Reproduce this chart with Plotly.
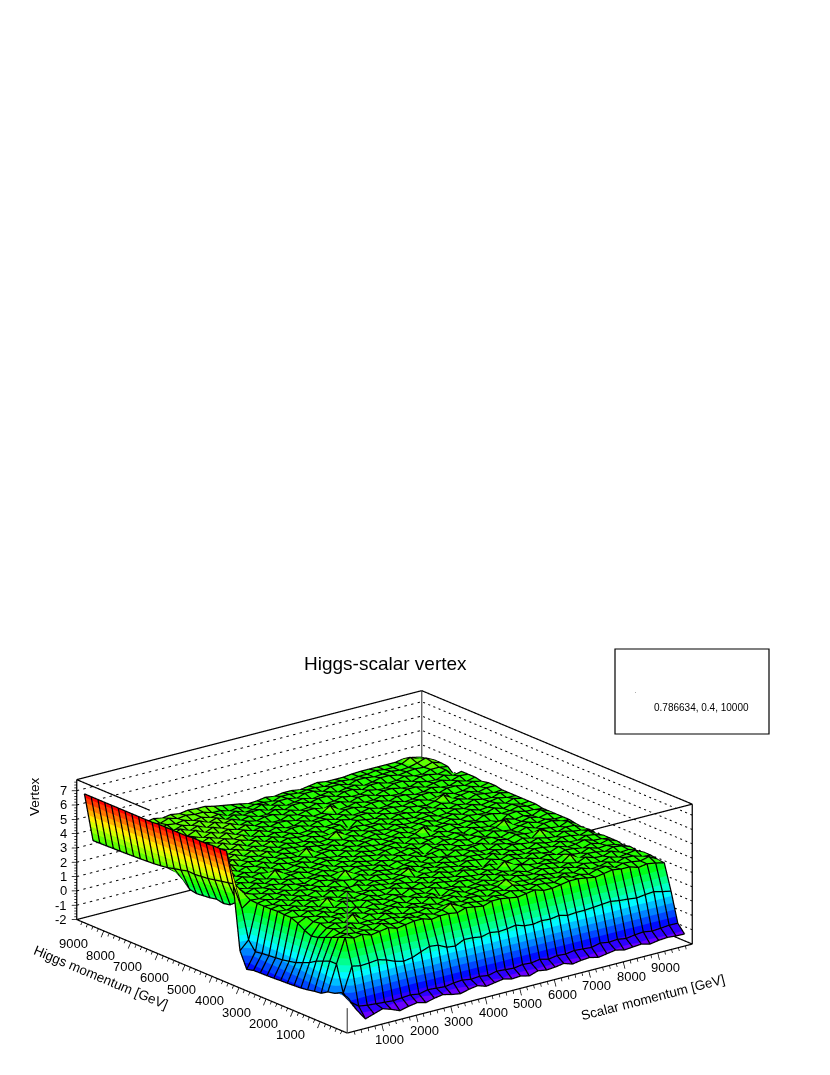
import colorsys
import plotly.graph_objects as go

# bin centres of the 40 x 40 histogram
scalar_p = [125 + 250 * i for i in range(40)]
higgs_p = [125 + 250 * j for j in range(40)]

# one row per Higgs bin
vertex = [
    [.27,-.73,-1.5,-1.3,-1.1,-1.3,-1.55,-1.4,-1.3,-1.45,-1.3,-1.2,-1.35,-1.45,-1.3,-1.2,-1.4,-1.3,-1.2,-1.35,-1.3,-1.45,-1.25,-1.35,-1.3,-1.2,-1.4,-1.3,-1.25,-1.4,-1.3,-1.2,-1.35,-1.3,-1.25,-1.4,-1.3,-1.25,-1.3,-1.32],
    [.45,-.35,-.8,-.9,-.95,-1.0,-1.05,-1.0,-.95,-1.05,-.9,-.95,-1.0,-.9,-.85,-.95,-.9,-1.0,-.85,-.9,-.95,-.85,-.9,-.8,-.95,-.85,-.9,-.8,-.85,-.9,-.75,-.85,-.8,-.9,-.8,-.75,-.85,-.8,-.75,-.76],
    [.2,.07,1.79,1.66,1.7,1.77,1.6,1.35,1.2,1.3,1.55,1.77,1.7,1.4,1.33,1.63,1.6,1.5,1.65,1.55,1.6,1.7,1.5,1.45,1.55,1.5,1.6,1.45,1.5,1.5,1.55,1.6,1.65,1.55,1.5,1.42,1.5,1.55,1.4,1.28],
    [.1,1.9,3.6,3.4,3.5,3.3,3.4,3.5,3.3,3.4,3.5,3.5,3.3,3.4,3.4,3.3,3.5,3.4,3.3,3.5,3.5,3.4,3.3,3.4,3.5,3.3,3.3,3.4,3.5,3.5,3.4,3.3,3.4,3.5,3.4,3.4,3.2,3.3,3.2,3.06],
    [-.19,1.9,3.4,3.5,3.4,3.45,3.3,3.6,3.4,3.35,3.55,3.4,3.5,3.3,3.45,3.75,3.4,3.5,3.4,3.3,3.5,3.4,3.55,3.4,3.3,3.5,3.45,3.35,3.6,3.4,3.45,3.3,3.5,3.55,3.3,3.45,3.4,3.3,3.45,3.1],
    [-.25,1.7,3.2,3.35,3.6,3.3,3.45,3.35,3.5,3.5,3.3,3.45,3.4,3.55,3.3,3.4,3.5,3.35,3.5,3.45,3.25,3.5,3.35,3.6,3.4,3.35,3.55,3.45,3.3,3.5,3.35,3.55,3.3,3.35,3.5,3.3,3.5,3.45,3.25,3.2],
    [-.35,1.5,3.0,3.45,3.3,3.55,3.35,3.4,3.3,3.6,3.4,3.25,3.55,3.4,3.45,3.3,3.45,3.55,3.3,3.4,3.5,3.35,3.45,3.8,3.45,3.4,3.3,3.5,3.4,3.3,3.55,3.35,3.5,3.4,3.3,3.5,3.3,3.4,3.5,3.2],
    [-.42,1.2,2.8,3.3,3.5,3.35,3.8,3.3,3.5,3.35,3.45,3.55,3.3,3.45,3.3,3.6,3.35,3.4,3.55,3.3,3.45,3.5,3.35,3.45,3.3,3.55,3.4,3.35,3.55,3.45,3.3,3.5,3.35,3.6,3.4,3.35,3.55,3.3,3.35,3.1],
    [-.45,1.0,2.7,3.45,3.3,3.5,3.3,3.55,3.35,3.5,3.3,3.4,3.5,3.3,3.55,3.35,3.5,3.1,3.45,3.5,3.3,3.4,3.5,3.3,3.55,3.35,3.5,3.3,3.4,3.55,3.45,3.3,3.75,3.3,3.5,3.45,3.3,3.5,3.4,3.2],
    [-.48,.8,2.9,3.35,3.55,3.35,3.45,3.3,3.6,3.4,3.5,3.3,3.45,3.55,3.35,3.45,3.3,3.55,3.35,3.3,3.55,3.45,3.3,3.55,3.35,3.45,3.3,3.6,3.45,3.35,3.5,3.3,3.55,3.4,3.3,3.55,3.35,3.4,3.3,3.1],
    [-.5,.7,3.2,3.5,3.35,3.55,3.3,3.5,3.35,3.1,3.55,3.45,3.3,3.5,3.3,3.6,3.4,3.35,3.55,3.45,3.3,3.5,3.4,3.3,3.5,3.35,3.8,3.4,3.3,3.55,3.35,3.5,3.3,3.5,3.45,3.3,3.5,3.3,3.45,3.2],
    [-.53,.6,3.4,3.3,3.55,3.4,3.5,3.3,3.6,3.45,3.35,3.55,3.35,3.3,3.6,3.4,3.3,3.5,3.3,3.55,3.4,3.3,3.6,3.45,3.35,3.55,3.3,3.45,3.5,3.3,3.55,3.4,3.3,3.55,3.35,3.4,3.55,3.35,3.3,3.2],
    [-.55,.55,3.4,3.55,3.35,3.5,3.3,3.8,3.35,3.5,3.3,3.45,3.55,3.4,3.35,3.55,3.45,3.3,3.5,3.35,3.6,3.4,3.3,3.5,3.35,3.1,3.55,3.35,3.55,3.4,3.3,3.5,3.45,3.3,3.55,3.35,3.3,3.5,3.4,3.2],
    [-.56,.5,3.44,3.35,3.5,3.3,3.55,3.4,3.5,3.3,3.6,3.35,3.3,3.55,3.45,3.3,3.5,3.55,3.3,3.45,3.35,3.55,3.45,3.3,3.55,3.45,3.35,3.6,3.3,3.5,3.35,3.3,3.55,3.4,3.3,3.5,3.45,3.3,3.5,3.1],
    [-.58,.45,3.4,3.5,3.3,3.55,3.35,3.45,3.3,3.6,3.4,3.5,3.55,3.3,3.5,3.4,3.3,3.45,3.75,3.3,3.5,3.35,3.55,3.4,3.3,3.5,3.45,3.3,3.5,3.35,3.55,3.45,3.35,3.55,3.4,3.3,3.55,3.4,3.3,3.2],
    [-.7,.37,3.4,3.35,3.55,3.3,3.5,3.35,3.55,3.3,3.5,3.35,3.1,3.5,3.35,3.55,3.45,3.3,3.5,3.55,3.35,3.45,3.3,3.55,3.45,3.35,3.55,3.35,3.3,3.55,3.4,3.3,3.5,3.3,3.8,3.45,3.3,3.5,3.45,3.14],
    [.4,1.0,3.4,3.5,3.35,3.55,3.3,3.55,3.4,3.5,3.3,3.55,3.45,3.35,3.55,3.3,3.5,3.4,3.3,3.45,3.55,3.3,3.5,3.35,3.3,3.55,3.4,3.5,3.55,3.3,3.5,3.35,3.55,3.45,3.35,3.5,3.4,3.3,3.55,3.2],
    [4.8,3.0,3.43,3.35,3.55,3.4,3.5,3.3,3.5,3.35,3.55,3.4,3.3,3.8,3.4,3.5,3.35,3.55,3.3,3.5,3.4,3.55,3.35,3.45,3.55,3.3,3.5,3.35,3.3,3.55,3.45,3.3,3.5,3.35,3.55,3.3,3.5,3.55,3.35,3.3],
    [6.97,4.5,3.7,3.5,3.35,3.55,3.3,3.55,3.4,3.3,3.5,3.55,3.35,3.45,3.3,3.55,3.45,3.3,3.5,3.35,3.55,3.4,3.5,3.1,3.45,3.55,3.35,3.55,3.4,3.5,3.3,3.55,3.4,3.3,3.45,3.55,3.35,3.45,3.3,3.3],
    [6.95,4.4,2.9,3.35,3.55,3.4,3.5,3.35,3.55,3.45,3.3,3.4,3.55,3.35,3.5,3.35,3.55,3.4,3.3,3.55,3.35,3.45,3.55,3.35,3.55,3.3,3.5,3.4,3.55,3.35,3.5,3.35,3.45,3.8,3.3,3.4,3.55,3.35,3.5,3.3],
    [6.95,4.3,2.5,3.5,3.3,3.55,3.35,3.55,3.3,3.5,3.55,3.35,3.45,3.55,3.3,3.5,3.35,3.55,3.45,3.3,3.5,3.55,3.35,3.5,3.3,3.45,3.55,3.35,3.5,3.3,3.55,3.4,3.3,3.5,3.55,3.35,3.45,3.3,3.55,3.3],
    [6.9,4.2,2.4,3.35,3.55,3.35,3.5,3.3,3.8,3.4,3.35,3.55,3.3,3.45,3.55,3.35,3.5,3.3,3.55,3.4,3.35,3.5,3.55,3.3,3.55,3.4,3.35,3.55,3.35,3.5,3.35,3.55,3.45,3.35,3.1,3.5,3.55,3.4,3.35,3.3],
    [6.9,4.1,2.5,3.55,3.35,3.6,3.4,3.55,3.4,3.5,3.3,3.45,3.55,3.35,3.5,3.4,3.3,3.55,3.35,3.55,3.45,3.35,3.45,3.55,3.35,3.5,3.8,3.3,3.5,3.55,3.35,3.45,3.3,3.55,3.5,3.35,3.4,3.55,3.4,3.4],
    [6.9,4.05,2.4,3.4,3.65,3.4,3.55,3.35,3.6,3.35,3.55,3.4,3.35,3.55,3.35,3.5,3.55,3.35,3.5,3.35,3.5,3.55,3.35,3.4,3.55,3.35,3.4,3.55,3.35,3.4,3.55,3.35,3.5,3.4,3.35,3.55,3.35,3.5,3.35,3.4],
    [6.85,4.0,2.35,3.6,3.45,3.7,3.4,3.6,3.45,3.6,3.35,3.55,3.45,3.35,3.8,3.35,3.4,3.55,3.35,3.55,3.35,3.45,3.55,3.35,3.5,3.55,3.35,3.5,3.55,3.35,3.45,3.55,3.35,3.55,3.35,3.4,3.55,3.35,3.55,3.4],
    [6.85,4.03,2.3,3.5,3.7,3.45,3.7,3.4,3.6,3.45,3.6,3.4,3.55,3.4,3.35,3.55,3.45,3.35,3.55,3.4,3.55,3.35,3.55,3.45,3.35,3.55,3.4,3.35,3.5,3.55,3.35,3.4,3.55,3.4,3.55,3.35,3.45,3.55,3.4,3.4],
    [6.85,3.9,2.4,3.7,3.45,3.7,3.45,3.7,3.45,3.6,3.45,3.65,3.4,3.55,3.45,3.35,3.55,3.35,3.4,3.8,3.4,3.55,3.35,3.5,3.55,3.35,3.55,3.45,3.35,3.55,3.4,3.55,3.35,3.5,3.35,3.55,3.4,3.35,3.55,3.4],
    [6.85,3.8,2.9,3.45,3.7,3.45,3.7,3.45,3.7,3.4,3.65,3.45,3.6,3.4,3.55,3.4,3.35,3.55,3.4,3.35,3.55,3.35,3.5,3.4,3.35,3.55,3.35,3.55,3.5,3.35,3.55,3.35,3.55,3.4,3.55,3.35,3.55,3.45,3.35,3.4],
    [6.85,3.67,3.2,3.7,3.45,3.75,3.45,3.7,3.5,3.7,3.45,3.6,3.45,3.65,3.4,3.55,3.45,3.4,3.55,3.35,3.5,3.55,3.1,3.55,3.45,3.35,3.55,3.4,3.35,3.55,3.45,3.35,3.5,3.8,3.35,3.45,3.55,3.35,3.5,3.5],
    [6.8,3.6,3.4,3.5,3.75,3.45,3.7,3.45,3.7,3.45,3.7,3.4,3.65,3.4,3.6,3.4,3.55,3.35,3.4,3.55,3.35,3.4,3.55,3.4,3.55,3.55,3.35,3.55,3.5,3.4,3.55,3.55,3.35,3.4,3.55,3.35,3.4,3.55,3.35,3.5],
    [6.8,3.55,3.7,3.75,3.5,3.75,3.5,3.7,3.45,3.75,3.45,3.65,3.45,3.6,3.4,3.55,3.4,3.55,3.55,3.35,3.55,3.55,3.35,3.55,3.35,3.4,3.55,3.35,3.4,3.55,3.35,3.4,3.55,3.55,3.35,3.55,3.55,3.4,3.55,3.4],
    [6.8,3.52,3.5,3.5,3.75,3.5,3.75,3.45,3.75,3.5,3.7,3.5,3.65,3.35,3.65,3.4,3.55,3.35,3.35,3.55,3.35,3.45,3.55,3.35,3.55,3.55,3.4,3.55,3.55,3.35,3.55,3.5,3.35,3.4,3.55,3.4,3.35,3.55,3.35,3.5],
    [6.8,3.49,3.7,3.75,3.5,3.8,3.55,3.75,3.5,3.75,3.5,3.75,3.45,3.65,3.4,3.55,3.4,3.55,3.5,3.35,3.55,3.35,3.4,3.8,3.35,3.4,3.55,3.4,3.4,3.55,3.4,3.35,3.55,3.55,3.35,3.5,3.55,3.35,3.55,3.5],
    [6.8,3.47,3.6,3.6,3.85,3.5,3.75,3.5,3.75,3.5,3.75,3.5,3.65,3.45,3.65,3.4,3.55,3.35,3.35,3.55,3.4,3.55,3.55,3.35,3.55,3.55,3.35,3.55,3.55,3.35,3.55,3.55,3.4,3.35,3.55,3.4,3.35,3.55,3.35,3.5],
    [6.8,3.45,3.8,3.85,3.6,3.85,3.6,3.8,3.6,3.85,3.5,3.75,3.5,3.7,3.4,3.55,3.4,3.55,3.55,3.35,3.55,3.35,3.4,3.55,3.35,3.4,3.55,3.4,3.4,3.55,3.4,3.35,3.55,3.55,3.35,3.55,3.55,3.4,3.55,3.0],
    [6.8,3.43,3.7,3.6,3.8,3.6,3.8,3.6,3.9,3.6,3.8,3.5,3.75,3.5,3.65,3.4,3.55,3.35,3.35,3.55,3.35,3.55,3.55,3.4,3.55,3.55,3.35,3.55,3.55,3.35,3.55,3.55,3.35,3.4,3.55,3.4,3.35,3.55,3.55,3.44],
    [6.8,3.42,3.8,3.9,3.7,3.9,3.7,3.8,3.6,3.8,3.6,3.8,3.5,3.7,3.4,3.6,3.4,3.5,3.5,3.25,3.5,3.3,3.4,3.5,3.3,3.4,3.5,3.3,3.45,3.5,3.3,3.4,3.55,3.55,3.4,3.5,3.55,3.5,3.7,3.5],
    [6.8,3.4,3.7,3.7,3.8,3.6,3.8,3.6,3.8,3.7,3.8,3.6,3.7,3.5,3.6,3.3,3.5,3.25,3.3,3.5,3.25,3.45,3.45,3.3,3.5,3.5,3.3,3.5,3.5,3.3,3.5,3.5,3.4,3.45,3.5,3.4,3.45,3.6,3.8,3.5],
    [6.8,3.39,3.8,3.9,3.7,3.9,3.7,3.8,3.7,3.9,3.7,3.8,3.7,3.7,3.5,3.5,3.3,3.4,3.2,3.3,3.3,3.2,3.4,3.4,3.3,3.4,3.4,3.3,3.4,3.4,3.3,3.4,3.4,3.5,3.4,3.4,3.5,3.8,3.5,3.4],
    [6.8,3.38,3.6,3.6,3.7,3.7,3.8,3.7,3.83,3.7,3.8,3.7,3.8,3.75,3.75,3.6,3.5,3.4,3.3,3.16,3.2,3.3,3.2,3.3,3.3,3.2,3.3,3.4,3.3,3.3,3.3,3.37,3.4,3.4,3.4,3.4,3.4,3.5,3.44,3.3],
]

xticks_major = [1000, 2000, 3000, 4000, 5000, 6000, 7000, 8000, 9000]
yticks_major = [1000, 2000, 3000, 4000, 5000, 6000, 7000, 8000, 9000]
zticks_major = [-2, -1, 0, 1, 2, 3, 4, 5, 6, 7]

XMAX = 10000
ZMIN, ZMAX = -2, 7.77

# ROOT rainbow palette cut in 20 contour bands
colorscale = []
for k in range(20):
    r, g, b = colorsys.hls_to_rgb((265 - 265 * k / 19) / 360, 0.5, 1)
    col = f"rgb({int(r * 255)},{int(g * 255)},{int(b * 255)})"
    colorscale += [[k / 20, col], [(k + 1) / 20, col]]


def segments(pairs):
    """Flatten a list of 3D segments into x, y, z with None gaps."""
    xs, ys, zs = [], [], []
    for a, b in pairs:
        xs += [a[0], b[0], None]
        ys += [a[1], b[1], None]
        zs += [a[2], b[2], None]
    return xs, ys, zs


def lines(pairs, color="black", width=2.5):
    xs, ys, zs = segments(pairs)
    return go.Scatter3d(x=xs, y=ys, z=zs, mode="lines", hoverinfo="skip", showlegend=False,
                        line=dict(color=color, width=width))


def label(x, y, text, size=13.5, angle=0):
    return dict(xref="paper", yref="paper", x=x / 830, y=1 - y / 1075, text=text, showarrow=False,
                xanchor="center", yanchor="middle", textangle=angle,
                font=dict(family="Liberation Sans", size=size, color="black"))


fig = go.Figure()

fig.add_trace(go.Surface(
    x=scalar_p, y=higgs_p, z=vertex,
    colorscale=colorscale, cmin=-1.6, cmax=7.0, showscale=False,
    lighting=dict(ambient=1, diffuse=0, specular=0, roughness=1, fresnel=0),
))

# black mesh over the surface, nudged towards the camera so it wins the depth test
NX, NY, NZ = -28.6, -36.4, 0.047
mesh_x, mesh_y, mesh_z = [], [], []
for j, yv in enumerate(higgs_p):
    for i, xv in enumerate(scalar_p):
        mesh_x.append(xv + NX)
        mesh_y.append(yv + NY)
        mesh_z.append(vertex[j][i] + NZ)
    mesh_x.append(None)
    mesh_y.append(None)
    mesh_z.append(None)
for i, xv in enumerate(scalar_p):
    for j, yv in enumerate(higgs_p):
        mesh_x.append(xv + NX)
        mesh_y.append(yv + NY)
        mesh_z.append(vertex[j][i] + NZ)
    mesh_x.append(None)
    mesh_y.append(None)
    mesh_z.append(None)
fig.add_trace(go.Scatter3d(x=mesh_x, y=mesh_y, z=mesh_z, mode="lines", hoverinfo="skip",
                           showlegend=False, line=dict(color="black", width=2.5)))

# box edges; the two front top edges stop where the surface hides them in the reference
box = [
    ((0, XMAX, ZMAX), (XMAX, XMAX, ZMAX)), ((XMAX, XMAX, ZMAX), (XMAX, 0, ZMAX)),
    ((0, XMAX, ZMIN), (XMAX, XMAX, ZMIN)), ((XMAX, XMAX, ZMIN), (XMAX, 0, ZMIN)),
    ((0, XMAX, ZMIN), (0, XMAX, ZMAX)), ((XMAX, 0, ZMIN), (XMAX, 0, ZMAX)),
    ((0, 0, ZMIN), (XMAX, 0, ZMIN)), ((0, 0, ZMIN), (0, XMAX, ZMIN)),
    ((0, XMAX, ZMAX), (0, 7300, ZMAX)), ((XMAX, 0, ZMAX), (7050, 0, ZMAX)),
]
fig.add_trace(lines(box))
fig.add_trace(lines([((XMAX, XMAX, ZMIN), (XMAX, XMAX, ZMAX)),
                     ((0, 0, ZMIN), (0, 0, -0.26)), ((0, 0, 4.77), (0, 0, ZMAX))],
                    color="#555555"))

# dotted grid on the two back walls, drawn as short strokes
grid = []
for z in zticks_major[1:]:
    for v in range(0, XMAX, 190):
        grid.append(((v, XMAX, z), (v + 70, XMAX, z)))
        grid.append(((XMAX, v, z), (XMAX, v + 70, z)))
fig.add_trace(lines(grid, width=2))

# tick marks
ticks = []
for v in range(200, XMAX, 200):
    s = 1 if v % 1000 == 0 else 0.5
    ticks.append(((v, 0, ZMIN), (v, -63 * s, ZMIN - 0.43 * s)))
    ticks.append(((0, v, ZMIN), (-78 * s, v, ZMIN - 0.40 * s)))
for k in range(0, 49):
    z = ZMIN + 0.2 * k
    s = 1 if k % 5 == 0 else 0.5
    ticks.append(((0, XMAX, z), (-90 * s, XMAX + 70 * s, z)))
fig.add_trace(lines(ticks, width=1.5))

annotations = []
tick_font = dict(family="Liberation Sans", size=13, color="black")
for v in xticks_major:
    annotations.append(dict(x=v, y=0, z=ZMIN, text=str(v), showarrow=False, font=tick_font,
                            xshift=8, yshift=-15))
for v in yticks_major:
    annotations.append(dict(x=0, y=v, z=ZMIN, text=str(v), showarrow=False, font=tick_font,
                            xshift=-30, yshift=-13))
for v in zticks_major:
    annotations.append(dict(x=0, y=XMAX, z=v, text=str(v), showarrow=False, font=tick_font,
                            xanchor="right", xshift=-8))

# orthographic camera solved from the box corners, zoom goes through the aspect ratio
EYE = (-0.5826 * 1.961, -0.743 * 1.961, 0.3289 * 1.961)
CENTER = (0.0447, -0.0350, 0.6414)

fig.update_layout(
    width=830, height=1075,
    margin=dict(l=0, r=0, t=0, b=0),
    paper_bgcolor="white",
    showlegend=False,
    scene=dict(
        domain=dict(x=[0, 1], y=[0, 1]),
        aspectmode="manual",
        aspectratio=dict(x=0.8483, y=0.8483, z=0.3047),
        xaxis=dict(range=[-200, 10200], visible=False),
        yaxis=dict(range=[-200, 10200], visible=False),
        zaxis=dict(range=[-2.6, 8.2], visible=False),
        camera=dict(eye=dict(x=CENTER[0] + EYE[0], y=CENTER[1] + EYE[1], z=CENTER[2] + EYE[2]),
                    center=dict(x=CENTER[0], y=CENTER[1], z=CENTER[2]), up=dict(x=0, y=0, z=1),
                    projection=dict(type="orthographic")),
        annotations=annotations,
    ),
    shapes=[
        dict(type="rect", xref="paper", yref="paper", x0=615 / 830, x1=769 / 830,
             y0=1 - 734 / 1075, y1=1 - 649 / 1075, line=dict(color="black", width=1.2)),
        dict(type="rect", xref="paper", yref="paper", x0=635 / 830, x1=635.7 / 830,
             y0=1 - 692.7 / 1075, y1=1 - 692 / 1075, line=dict(width=0), fillcolor="#666666"),
    ],
    annotations=[
        label(385.5, 663, "Higgs-scalar vertex", size=19),
        label(701, 707, "0.786634, 0.4, 10000", size=10),
        label(653, 997, "Scalar momentum [GeV]", angle=-14.5),
        label(101, 977, "Higgs momentum [GeV]", angle=22.7),
        label(34, 797, "Vertex", angle=-90),
    ],
)

fig.write_html("out.html", config=dict(displayModeBar=False),
               post_script="document.body.style.margin='0';")
